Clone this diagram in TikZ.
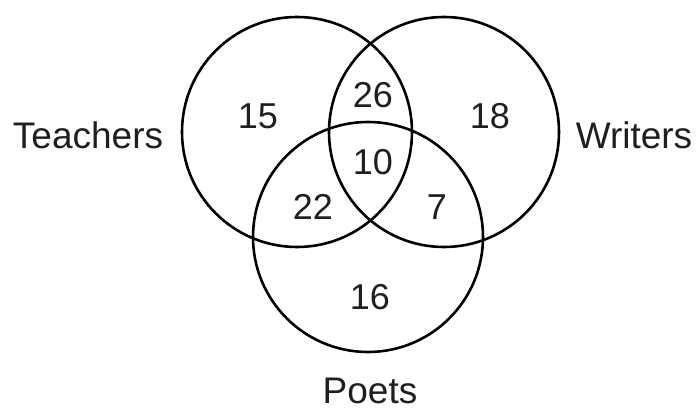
\documentclass[tikz,border=0pt]{standalone}
\usepackage{fontspec}
\setmainfont{Liberation Sans}
\usetikzlibrary{positioning}
\tikzset{
  setcircle/.style={circle,draw=black,line width=2.6pt,minimum size=230pt,inner sep=0pt},
  count/.style={font=\fontsize{36}{38}\selectfont,text=black!88,inner sep=0pt},
  setname/.style={font=\fontsize{37}{40}\selectfont,text=black!88,inner sep=0pt}
}
\begin{document}
\begin{tikzpicture}[x=1pt,y=-1pt]
\useasboundingbox (0,0) rectangle (699,411);
% the three sets
\node[setcircle] (teach) at (297,132) {};
\node[setcircle] (writ) at (444,132) {};
\node[setcircle] (poet) at (368,237) {};

% set names
\node[setname] (teachname) at (88,135) {Teachers};
\node[setname] (writname) at (634,135) {Writers};
\node[setname] (poetname) at (370,391) {Poets};

% regions
\node[count] (onlyt) at (258,116) {15};
\node[count] (tw) at (373,95) {26};
\node[count] (onlyw) at (490,116) {18};
\node[count] (twp) at (373,162) {10};
\node[count] (tp) at (313,207) {22};
\node[count] (wp) at (437,207) {7};
\node[count] (onlyp) at (370,297) {16};
\end{tikzpicture}
\end{document}
